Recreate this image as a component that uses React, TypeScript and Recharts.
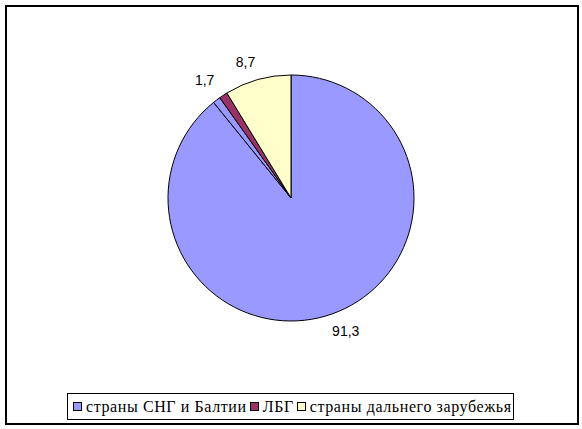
import { Pie, PieChart } from 'recharts';

// slices in drawing order, clockwise from 12 o'clock
const sliceNames = ['страны СНГ и Балтии', '', 'ЛБГ', 'страны дальнего зарубежья'];
const sliceValues = [88.9, 1.0, 1.1, 8.7];
const sliceLabels = ['91,3', '', '1,7', '8,7'];
const sliceColors = ['#9999FF', '#9999FF', '#993366', '#FFFFCC'];

const legendNames = ['страны СНГ и Балтии', 'ЛБГ', 'страны дальнего зарубежья'];
const legendColors = ['#9999FF', '#993366', '#FFFFCC'];

const data = sliceNames.map((name, i) => ({
  name,
  value: sliceValues[i],
  label: sliceLabels[i],
  fill: sliceColors[i],
}));

const RAD = Math.PI / 180;

const renderLabel = (props: any) => {
  const { cx, cy, midAngle, index } = props;
  const text = sliceLabels[index];
  if (!text) return null;
  const s = Math.cos(-midAngle * RAD);
  const c = Math.sin(-midAngle * RAD);
  const x = cx + 146 * s + 6 * Math.sign(s);
  const y = cy + 141 * c;
  return (
    <text
      x={x}
      y={y}
      textAnchor="middle"
      dominantBaseline="central"
      fill="#000"
      style={{ fontFamily: '"Liberation Sans", Arial, sans-serif', fontSize: 14 }}
    >
      {text}
    </text>
  );
};

const LegendBox = () => (
  <div
    style={{
      position: 'absolute',
      left: 67,
      top: 393,
      boxSizing: 'border-box',
      width: 447,
      height: 27,
      border: '1px solid #000',
      background: '#fff',
      display: 'flex',
      alignItems: 'center',
      paddingLeft: 5,
      fontFamily: '"Liberation Serif", "Times New Roman", serif',
      fontSize: 16,
      letterSpacing: 0.6,
      color: '#000',
      whiteSpace: 'nowrap',
    }}
  >
    {legendNames.map((name, i) => (
      <span key={name} style={{ display: 'flex', alignItems: 'center', marginRight: 3 }}>
        <span
          style={{
            display: 'inline-block',
            boxSizing: 'border-box',
            width: 9,
            height: 9,
            border: '1px solid #000',
            background: legendColors[i],
            marginRight: 4,
          }}
        />
        {name}
      </span>
    ))}
  </div>
);

export default function App() {
  return (
    <div style={{ position: 'absolute', left: 0, top: 0, width: 582, height: 429, background: '#fff' }}>
      <div
        style={{
          position: 'absolute',
          left: 5,
          top: 5,
          width: 574,
          height: 420,
          boxSizing: 'border-box',
          border: '2px solid #000',
        }}
      />
      <PieChart
        width={582}
        height={429}
        margin={{ top: 0, right: 0, bottom: 0, left: 0 }}
        style={{ position: 'absolute', left: 0, top: 0 }}
      >
        <Pie
          data={data}
          dataKey="value"
          nameKey="name"
          cx={291}
          cy={198}
          outerRadius={123}
          startAngle={90}
          endAngle={-270}
          stroke="#000"
          strokeWidth={1}
          label={renderLabel}
          labelLine={false}
          isAnimationActive={false}
        />
      </PieChart>
      <LegendBox />
    </div>
  );
}
